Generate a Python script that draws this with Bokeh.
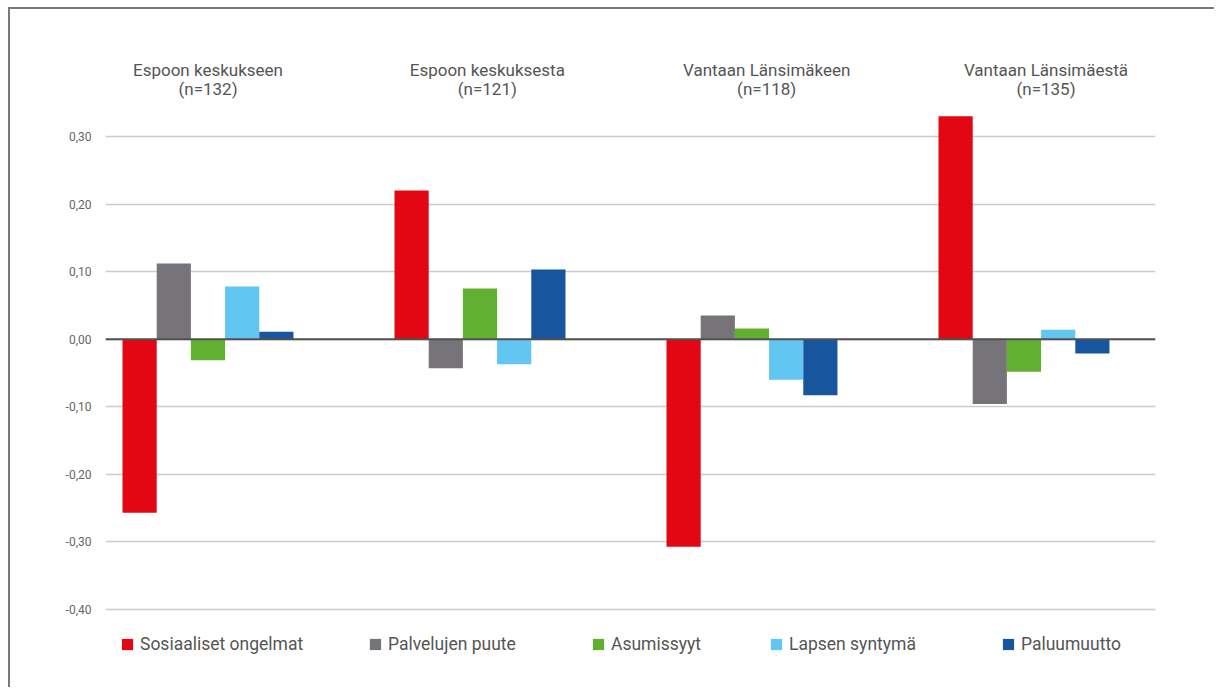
from bokeh.plotting import figure
from bokeh.models import ColumnDataSource, FixedTicker, Span, Legend, LegendItem, Range1d
from bokeh.core.properties import value
from bokeh.embed import file_html
from bokeh.resources import INLINE

# ---- data ----
GROUPS = ["Espoon keskukseen", "Espoon keskuksesta", "Vantaan Länsimäkeen", "Vantaan Länsimäestä"]
GROUP_N = [132, 121, 118, 135]
SERIES = ["Sosiaaliset ongelmat", "Palvelujen puute", "Asumissyyt", "Lapsen syntymä", "Paluumuutto"]
sosiaaliset_ongelmat = [-0.257, 0.220, -0.307, 0.330]
palvelujen_puute = [0.112, -0.043, 0.035, -0.096]
asumissyyt = [-0.031, 0.075, 0.016, -0.048]
lapsen_syntyma = [0.078, -0.037, -0.060, 0.014]
paluumuutto = [0.011, 0.103, -0.083, -0.021]
Y_TICKS = [-0.4, -0.3, -0.2, -0.1, 0.0, 0.1, 0.2, 0.3]
Y_TICK_LABELS = ["-0,40", "-0,30", "-0,20", "-0,10", "0,00", "0,10", "0,20", "0,30"]

VALUES = [sosiaaliset_ongelmat, palvelujen_puute, asumissyyt, lapsen_syntyma, paluumuutto]
COLORS = ["#E30613", "#767479", "#62B030", "#62C6F2", "#17559E"]

FONT = "Roboto"
TEXT_COLOR = "#555555"
BAR_W = 0.1257
TITLE_STEP = 1.027   # subtitle columns are spaced slightly wider than bar groups
TITLE_Y = 0.384

p = figure(width=1206, height=680, output_backend="svg", toolbar_location=None,
           x_range=Range1d(-0.3768, 3.4835), y_range=Range1d(-0.5184, 0.4598),
           min_border_left=95, min_border_right=61, min_border_top=19, min_border_bottom=0)
p.styles = {"margin-left": "8px", "margin-top": "7px",
            "border-left": "2px solid #7a7a7a", "border-top": "2px solid #7a7a7a"}
p.outline_line_color = None
p.xaxis.visible = False
p.xgrid.visible = False

ax = p.yaxis[0]
ax.ticker = FixedTicker(ticks=Y_TICKS)
ax.major_label_overrides = {t: l for t, l in zip(Y_TICKS, Y_TICK_LABELS)}
ax.axis_line_color = None
ax.major_tick_line_color = None
ax.minor_tick_line_color = None
ax.major_label_standoff = 8
ax.major_label_text_font = FONT
ax.major_label_text_font_size = "12px"
ax.major_label_text_color = "#666666"

p.ygrid.ticker = FixedTicker(ticks=Y_TICKS)
p.ygrid.grid_line_color = "#cccccc"
p.ygrid.grid_line_width = 1.5

renderers = []
for k, (name, vals, col) in enumerate(zip(SERIES, VALUES, COLORS)):
    xs = [i + (k - 2) * BAR_W for i in range(len(GROUPS))]
    src = ColumnDataSource(dict(x=xs, top=vals))
    r = p.vbar(x="x", top="top", bottom=0, width=BAR_W, source=src,
               fill_color=col, line_color=None)
    renderers.append(r)

p.add_layout(Span(location=0, dimension="width", line_color="#505050", line_width=2))

tsrc = ColumnDataSource(dict(x=[i * TITLE_STEP for i in range(len(GROUPS))],
                             y=[TITLE_Y] * len(GROUPS), name=GROUPS,
                             n=[f"(n={n})" for n in GROUP_N]))
for col, off in (("name", -9.5), ("n", 9.5)):
    p.text(x="x", y="y", text=col, source=tsrc, text_align="center", text_baseline="middle",
           y_offset=off, text_font=value(FONT), text_font_size="17px", text_color=TEXT_COLOR)

LEGEND_X = [15, 263, 486, 664, 896]
LEGEND_Y = 35
for name, r, lx in zip(SERIES, renderers, LEGEND_X):
    lg = Legend(items=[LegendItem(label=name, renderers=[r])], location=(lx, LEGEND_Y),
                orientation="horizontal", padding=0, margin=0, spacing=0,
                glyph_width=14, glyph_height=14, label_standoff=6,
                label_text_font=FONT, label_text_font_size="17.5px",
                label_text_color=TEXT_COLOR, border_line_color=None,
                background_fill_alpha=0)
    p.add_layout(lg)

open("out.html", "w").write(file_html(p, INLINE))
